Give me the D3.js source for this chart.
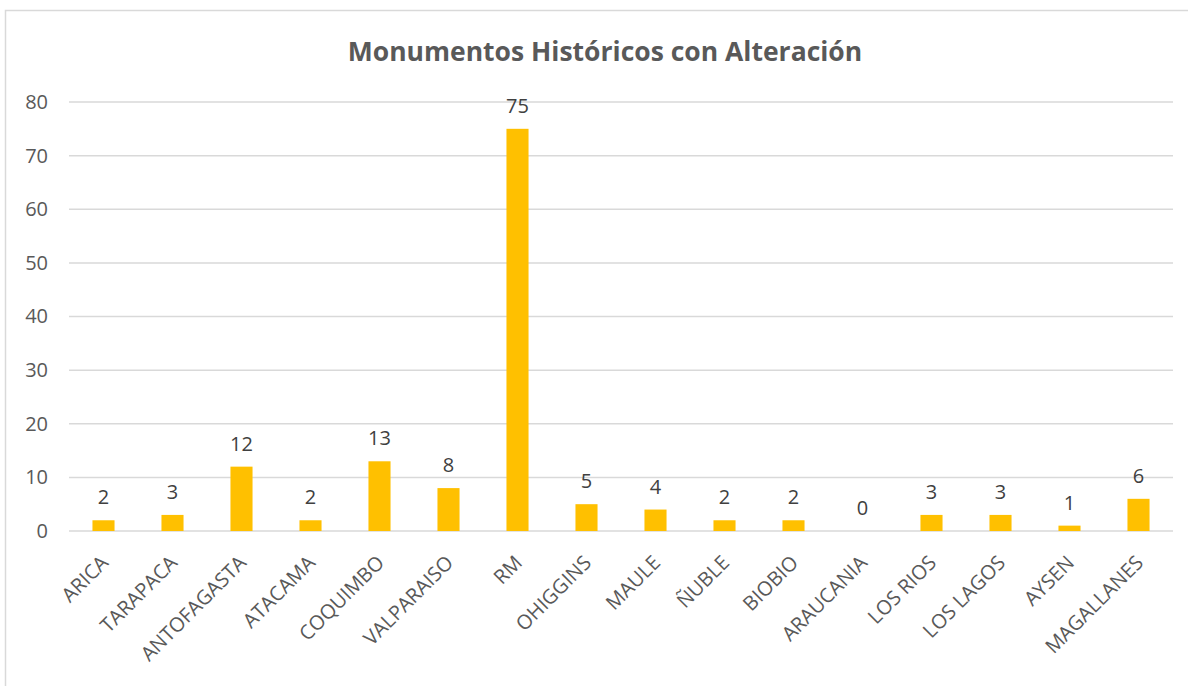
<!DOCTYPE html>
<html>
<head>
<meta charset="utf-8">
<script src="https://cdn.jsdelivr.net/npm/d3@7"></script>
<style>
  body { margin: 0; background: #fff; }
  svg { display: block; font-family: "Open Sans", sans-serif; }
</style>
</head>
<body>
<div class="chart"></div>
<script>
// data
var regions = ["ARICA", "TARAPACA", "ANTOFAGASTA", "ATACAMA", "COQUIMBO", "VALPARAISO",
    "RM", "OHIGGINS", "MAULE", "ÑUBLE", "BIOBIO", "ARAUCANIA", "LOS RIOS",
    "LOS LAGOS", "AYSEN", "MAGALLANES"];
var monumentos = [2, 3, 12, 2, 13, 8, 75, 5, 4, 2, 2, 0, 3, 3, 1, 6];
var yTicks = [0, 10, 20, 30, 40, 50, 60, 70, 80];
var chartTitle = "Monumentos Históricos con Alteración";

var W = 1188, H = 686;
var margin = {top: 102, right: 15, bottom: 155, left: 69};

var svg = d3.select(".chart").append("svg")
    .attr("width", W)
    .attr("height", H);

// chart area border
svg.append("rect")
    .attr("x", 5.5).attr("y", 10.5)
    .attr("width", W + 20).attr("height", H + 20)
    .style("fill", "none")
    .style("stroke", "#d9d9d9")
    .style("stroke-width", 1.5);

var x = d3.scaleBand()
    .domain(regions)
    .range([margin.left, W - margin.right])
    .paddingInner(0.68)
    .paddingOuter(0.34);

var y = d3.scaleLinear()
    .domain([0, 80])
    .range([H - margin.bottom, margin.top]);

// gridlines
svg.append("g").selectAll("line").data(yTicks).enter()
    .append("line")
    .attr("x1", margin.left)
    .attr("x2", W - margin.right)
    .attr("y1", function(d) { return y(d); })
    .attr("y2", function(d) { return y(d); })
    .style("stroke", "#d9d9d9")
    .style("stroke-width", 1.5);

// y axis labels
var yAxis = d3.axisLeft(y).tickValues(yTicks).tickSize(0).tickPadding(21);
var gy = svg.append("g")
    .attr("transform", "translate(" + margin.left + ",0)")
    .call(yAxis);
gy.select(".domain").remove();
gy.selectAll("text")
    .style("font-family", "Open Sans, sans-serif")
    .style("font-size", "20px")
    .style("fill", "#595959");

// bars
svg.append("g").selectAll("rect").data(monumentos).enter()
    .append("rect")
    .attr("x", function(d, i) { return x(regions[i]); })
    .attr("y", function(d) { return y(d); })
    .attr("width", x.bandwidth())
    .attr("height", function(d) { return y(0) - y(d); })
    .style("fill", "#ffc000");

// value labels
svg.append("g").selectAll("text").data(monumentos).enter()
    .append("text")
    .attr("x", function(d, i) { return x(regions[i]) + x.bandwidth() / 2; })
    .attr("y", function(d) { return y(d) - 16; })
    .attr("text-anchor", "middle")
    .style("font-size", "20px")
    .style("fill", "#404040")
    .text(function(d) { return d; });

// category labels, rotated
svg.append("g").selectAll("text").data(regions).enter()
    .append("text")
    .attr("transform", function(d) {
        var cx = x(d) + x.bandwidth() / 2 + 6;
        return "translate(" + cx + "," + (y(0) + 33) + ") rotate(-45)";
    })
    .attr("text-anchor", "end")
    .style("font-size", "20px")
    .style("fill", "#595959")
    .text(function(d) { return d; });

// title
svg.append("text")
    .attr("x", 605)
    .attr("y", 61)
    .attr("text-anchor", "middle")
    .style("font-size", "26.5px")
    .style("font-weight", "bold")
    .style("fill", "#595959")
    .text(chartTitle);
</script>
</body>
</html>
